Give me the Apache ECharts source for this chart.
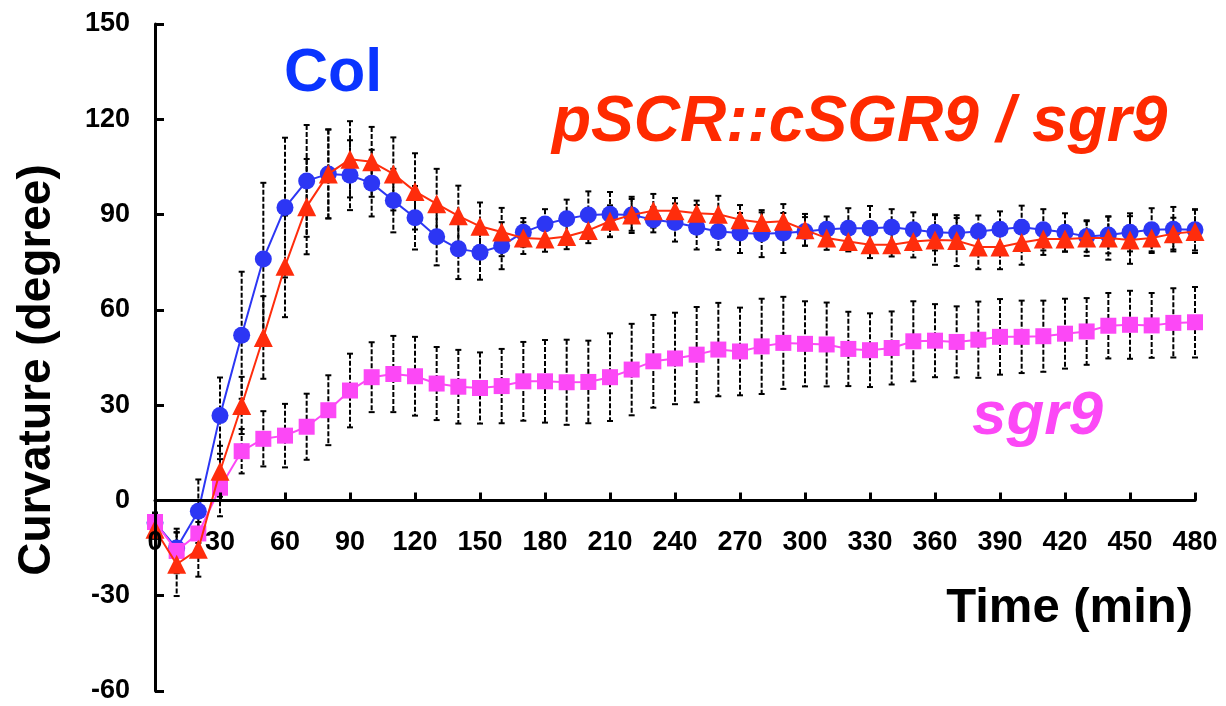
<!DOCTYPE html>
<html>
<head>
<meta charset="utf-8">
<script src="https://cdn.jsdelivr.net/npm/echarts@6/dist/echarts.min.js"></script>
<style>
  html, body { margin: 0; padding: 0; background: #fff; }
  #curvatureChart { width: 1226px; height: 706px; }
</style>
</head>
<body>
<div id="curvatureChart"></div>
<script>
// time points (min)
const minutes = [0, 10, 20, 30, 40, 50, 60, 70, 80, 90, 100, 110, 120, 130, 140, 150, 160,
  170, 180, 190, 200, 210, 220, 230, 240, 250, 260, 270, 280, 290, 300, 310, 320, 330,
  340, 350, 360, 370, 380, 390, 400, 410, 420, 430, 440, 450, 460, 470, 480]

// Col
const colMean = [-7, -15, -3.4, 26.7, 52, 76, 92.2, 100.6, 102.8, 102.4, 99.9, 94.4, 89, 83, 79.2, 78.1, 80.2,
  84.4, 87, 88.7, 89.9, 90.1, 89.9, 88.4, 87.5, 86, 84.7, 84.2, 84, 84.2, 84.7, 85.4, 85.7, 85.7,
  86, 85.2, 84.4, 84.2, 84.7, 85.4, 86, 85.2, 84.4, 83.1, 83.6, 84.4, 85.2, 85.4, 85.2]
const colErr = [3, 5, 10, 12, 20, 24, 22, 17.6, 14, 11, 10.5, 10, 10, 9, 9.5, 8.6, 7.4,
  4.5, 4.7, 6, 7.4, 7, 5.7, 4, 6, 7, 5.8, 6.3, 7.4, 6.3, 4.5, 4, 6.3, 7,
  5.7, 5.5, 5.7, 4.7, 5, 5.6, 6.8, 6.5, 6, 4.8, 5.8, 6, 6.8, 7, 6.5]

// pSCR::cSGR9 / sgr9
const rescueMean = [-9.1, -20.1, -15.4, 9.2, 29.9, 51.3, 73.7, 92.5, 102.8, 107.4, 106.6, 102.8, 97.3, 93.4, 89.6, 86.3, 84.5,
  82.6, 82.3, 83.1, 85, 87.9, 89.9, 91.2, 91.2, 90.4, 90.1, 88.4, 87.5, 87.9, 85.2, 82.6, 81.5, 80.5,
  80.5, 81.5, 82, 81.8, 79.8, 79.8, 81.2, 82.3, 82.3, 82.6, 82.6, 82, 82.6, 84, 84.7]
const rescueErr = [3, 10, 8.6, 8, 9, 13, 16, 15, 14, 12, 11, 11.5, 12, 11, 9.5, 7.5, 7.6,
  5, 4, 4, 4, 5, 5, 5.3, 4, 4, 5.8, 4.6, 3.2, 5.4, 5, 3.7, 3.1, 4.2,
  3.7, 5, 7.8, 8, 7, 7, 7, 5, 4, 5.6, 6.8, 7.5, 4.7, 5, 6.8]

// sgr9
const sgr9Mean = [-6.8, -15.9, -10.4, 4, 15.5, 19.4, 20.4, 23.2, 28.4, 34.6, 38.8, 39.8, 39.1, 36.8, 35.8, 35.4, 36,
  37.5, 37.5, 37.2, 37.3, 38.8, 41.2, 43.8, 44.7, 45.9, 47.5, 46.9, 48.5, 49.6, 49.3, 49.1, 47.7, 47.3,
  48, 50.1, 50.3, 49.9, 50.6, 51.5, 51.5, 51.7, 52.5, 53.2, 55, 55.3, 55.1, 55.9, 56.1]
const sgr9Err = [3, 7, 5, 9, 7, 8.7, 10, 10.4, 11, 11.6, 11, 12, 12.4, 11.5, 11.6, 11.2, 11.7,
  12.4, 13, 13.4, 13, 13.8, 14.4, 14.6, 14.4, 15, 14.7, 13.8, 15, 14.5, 13.4, 13.2, 11.7, 11.6,
  11.5, 12.6, 11.5, 11.2, 12, 11.9, 11.4, 11.2, 11, 10.5, 10.3, 10.7, 10.2, 10.9, 11.1]

const yTicks = { min: -60, max: 150, interval: 30 }
const xTicks = { min: 0, max: 480, interval: 30 }

const FONT = '"Liberation Sans", Arial, sans-serif'
const BLUE = '#2c36f4'
const RED = '#ff2d0c'
const PINK = '#fc48f6'

// plot box, px
const GRID = { left: 155, right: 31, top: 24, bottom: 15 }
const plotHeight = 706 - GRID.top - GRID.bottom
// lift the time axis from the bottom edge up to y = 0
const zeroOffset = -plotHeight * (0 - yTicks.min) / (yTicks.max - yTicks.min)

function pairs (values) {
  return minutes.map((t, i) => [t, values[i]])
}

function errorBars (name, values, errs) {
  return {
    type: 'custom',
    name: name + ' err',
    z: 1,
    silent: true,
    data: minutes.map((t, i) => [t, values[i], errs[i]]),
    renderItem (params, api) {
      const x = api.value(0)
      const y = api.value(1)
      const e = api.value(2)
      const top = api.coord([x, y + e])
      const bot = api.coord([x, y - e])
      const cap = 3
      const stroke = { stroke: '#000', lineWidth: 2 }
      return {
        type: 'group',
        children: [
          { type: 'line', shape: { x1: top[0], y1: top[1], x2: bot[0], y2: bot[1] }, style: { ...stroke, lineDash: [5, 2] } },
          { type: 'line', shape: { x1: top[0] - cap, y1: top[1], x2: top[0] + cap, y2: top[1] }, style: stroke },
          { type: 'line', shape: { x1: bot[0] - cap, y1: bot[1], x2: bot[0] + cap, y2: bot[1] }, style: stroke }
        ]
      }
    }
  }
}

function lineSeries (name, values, color, symbol, size, z) {
  return {
    type: 'line',
    name,
    z,
    data: pairs(values),
    symbol,
    symbolSize: size,
    showSymbol: true,
    lineStyle: { color, width: 2 },
    itemStyle: { color, opacity: 1 }
  }
}

const chart = echarts.init(document.getElementById('curvatureChart'))
const option = {
  animation: false,
  backgroundColor: '#fff',
  grid: { ...GRID, containLabel: false, outerBoundsMode: 'none' },
  xAxis: {
    type: 'value',
    min: xTicks.min,
    max: xTicks.max,
    interval: xTicks.interval,
    position: 'bottom',
    offset: zeroOffset,
    z: 10,
    axisLine: { show: true, onZero: false, lineStyle: { color: '#000', width: 3 } },
    axisTick: { show: true, inside: true, length: 8, lineStyle: { color: '#000', width: 3 } },
    axisLabel: { show: true, color: '#000', fontFamily: FONT, fontWeight: 'bold', fontSize: 27, margin: 29 },
    splitLine: { show: false }
  },
  yAxis: {
    type: 'value',
    min: yTicks.min,
    max: yTicks.max,
    interval: yTicks.interval,
    z: 10,
    axisLine: { show: true, onZero: false, lineStyle: { color: '#000', width: 3 } },
    axisTick: { show: true, inside: true, length: 9, lineStyle: { color: '#000', width: 3 } },
    axisLabel: { color: '#000', fontFamily: FONT, fontWeight: 'bold', fontSize: 27, margin: 25 },
    splitLine: { show: false }
  },
  graphic: [
    {
      type: 'text', x: 37, y: 370, rotation: Math.PI / 2,
      style: { text: 'Curvature (degree)', fill: '#000', font: 'bold 46px ' + FONT, align: 'center', verticalAlign: 'middle' }
    },
    {
      type: 'text', left: 284, top: 44,
      style: { text: 'Col', fill: '#0a34ff', font: 'bold 61px ' + FONT }
    },
    {
      type: 'text', left: 552, top: 91,
      style: { text: 'pSCR::cSGR9 / sgr9', fill: '#ff2a00', font: 'italic bold 64px ' + FONT }
    },
    {
      type: 'text', left: 972, top: 386,
      style: { text: 'sgr9', fill: '#fc48f6', font: 'italic bold 62px ' + FONT }
    },
    {
      type: 'text', right: 33, top: 584,
      style: { text: 'Time (min)', fill: '#000', font: 'bold 49px ' + FONT }
    }
  ],
  series: [
    errorBars('Col', colMean, colErr),
    errorBars('sgr9', sgr9Mean, sgr9Err),
    errorBars('pSCR::cSGR9 / sgr9', rescueMean, rescueErr),
    lineSeries('Col', colMean, BLUE, 'circle', 17, 3),
    lineSeries('sgr9', sgr9Mean, PINK, 'rect', 16, 4),
    lineSeries('pSCR::cSGR9 / sgr9', rescueMean, RED, 'triangle', 19, 5)
  ]
}
chart.setOption(option)
</script>
</body>
</html>
